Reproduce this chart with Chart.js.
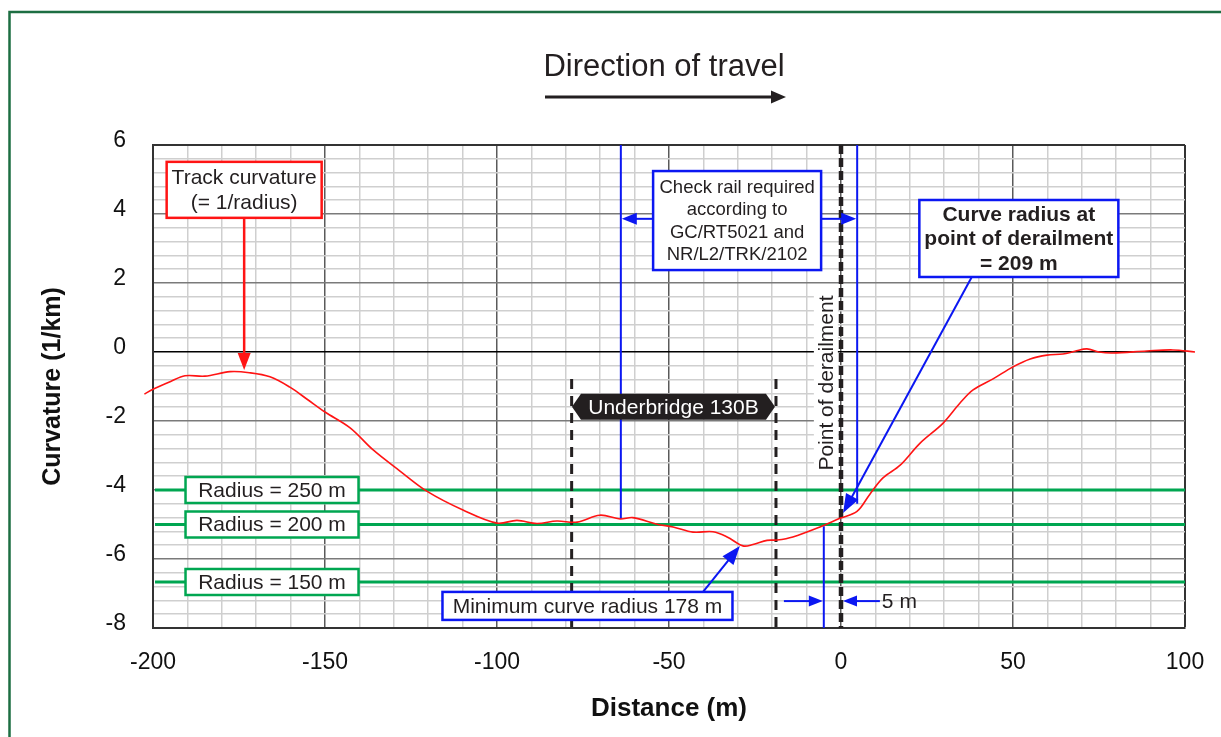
<!DOCTYPE html>
<html>
<head>
<meta charset="utf-8">
<title>Track curvature</title>
<script src="https://cdn.jsdelivr.net/npm/chart.js@4.4.1/dist/chart.umd.min.js"></script>
<style>
  html, body { margin: 0; padding: 0; background: #fff; }
  canvas { display: block; }
</style>
</head>
<body>
<canvas id="chart" width="1221" height="737" style="width:1221px;height:737px"></canvas>
<script>
// --- Data ---

// Distance along track (m) and measured curvature (1/km)
const distance = [-202.5, -200, -195, -190.7, -184.9, -177.6, -172, -166, -160.2, -155.2,
    -150, -142.7, -136, -128.2, -120.3, -109.9, -100, -94.2, -88.4, -82.6,
    -76.7, -70.1, -64.2, -60.5, -53.5, -48.8, -43, -37.2, -33.1, -28.5,
    -25.6, -21.5, -18.6, -14, -6.1, -0.3, 4.65, 8.4, 12.2, 17.2,
    23, 29.7, 34.6, 38.4, 44.2, 50, 55, 59.9, 64.5, 68,
    71.5, 75, 79, 88.9, 96.5, 102.9];
const curvature = [-1.22, -1.08, -0.86, -0.69, -0.70, -0.57, -0.60, -0.72, -1.02, -1.37,
    -1.74, -2.20, -2.84, -3.45, -4.04, -4.58, -4.96, -4.88, -4.97, -4.90,
    -4.93, -4.73, -4.84, -4.80, -4.99, -5.07, -5.22, -5.21, -5.36, -5.62,
    -5.58, -5.46, -5.45, -5.36, -5.07, -4.82, -4.62, -4.12, -3.65, -3.28,
    -2.64, -2.06, -1.48, -1.10, -0.78, -0.43, -0.20, -0.09, -0.06, 0.02,
    0.09, 0.00, -0.03, 0.03, 0.06, 0.00];

// Reference radii (m), drawn as curvature = -1000 / radius
const radiusLines = [250, 200, 150];

// Tick labels
const xTickLabels = [-200, -150, -100, -50, 0, 50, 100];
const yTickLabels = [6, 4, 2, 0, -2, -4, -6, -8];

// Marker positions (m)
const derailPoint = 0;
const checkRailStart = -64;
const checkRailEnd = 4.7;
const bridgeStart = -78.3;
const bridgeEnd = -18.9;
const fiveMetreMark = -5;
const radiusAtDerail = 209;
const minRadius = 178;

// --- Styles ---
const FONT = '"Liberation Sans", Arial, sans-serif';
const INK = '#231f20';
const BLUE = '#0b17f2';
const RED = '#ff1414';
const GREEN = '#00a651';

function arrowHead(ctx, x1, y1, x2, y2, len, wid, color) {
    const a = Math.atan2(y2 - y1, x2 - x1);
    ctx.save();
    ctx.fillStyle = color;
    ctx.translate(x2, y2);
    ctx.rotate(a);
    ctx.beginPath();
    ctx.moveTo(0, 0);
    ctx.lineTo(-len, -wid / 2);
    ctx.lineTo(-len, wid / 2);
    ctx.closePath();
    ctx.fill();
    ctx.restore();
}

function arrow(ctx, x1, y1, x2, y2, color, lw, len, wid) {
    const a = Math.atan2(y2 - y1, x2 - x1);
    ctx.save();
    ctx.strokeStyle = color;
    ctx.lineWidth = lw;
    ctx.beginPath();
    ctx.moveTo(x1, y1);
    ctx.lineTo(x2 - Math.cos(a) * len * 0.8, y2 - Math.sin(a) * len * 0.8);
    ctx.stroke();
    ctx.restore();
    arrowHead(ctx, x1, y1, x2, y2, len, wid, color);
}

function textBox(ctx, cx, cy, w, h, color, lines, font, lh) {
    ctx.save();
    ctx.fillStyle = '#fff';
    ctx.fillRect(cx - w / 2, cy - h / 2, w, h);
    ctx.strokeStyle = color;
    ctx.lineWidth = 2.5;
    ctx.strokeRect(cx - w / 2, cy - h / 2, w, h);
    ctx.fillStyle = INK;
    ctx.font = font;
    ctx.textAlign = 'center';
    ctx.textBaseline = 'middle';
    lines.forEach((t, i) => ctx.fillText(t, cx, cy + (i - (lines.length - 1) / 2) * lh + 1));
    ctx.restore();
}

function vLine(ctx, px, y1, y2, color, lw, dash) {
    ctx.save();
    ctx.strokeStyle = color;
    ctx.lineWidth = lw;
    ctx.setLineDash(dash || []);
    ctx.beginPath();
    ctx.moveTo(px, y1);
    ctx.lineTo(px, y2);
    ctx.stroke();
    ctx.restore();
}

// Frame, heading and direction arrow
const framePlugin = {
    id: 'frame',
    afterDraw(chart) {
        const ctx = chart.ctx;
        ctx.save();
        ctx.strokeStyle = '#1d6e42';
        ctx.lineWidth = 2.5;
        ctx.beginPath();
        ctx.moveTo(9.5, 737);
        ctx.lineTo(9.5, 12);
        ctx.lineTo(1221, 12);
        ctx.stroke();
        ctx.fillStyle = INK;
        ctx.font = '31px ' + FONT;
        ctx.textAlign = 'center';
        ctx.textBaseline = 'middle';
        ctx.fillText('Direction of travel', 664, 67);
        ctx.restore();
        arrow(ctx, 545, 97, 786, 97, INK, 3, 15, 13);
    }
};

// Reference lines, markers and callouts
const annotationPlugin = {
    id: 'annotations',
    beforeDatasetsDraw(chart) {
        const {ctx, chartArea: a, scales: {x, y}} = chart;
        ctx.save();
        ctx.strokeStyle = GREEN;
        ctx.lineWidth = 3;
        radiusLines.forEach(r => {
            const py = y.getPixelForValue(-1000 / r);
            ctx.beginPath();
            ctx.moveTo(a.left + 2, py);
            ctx.lineTo(a.right, py);
            ctx.stroke();
        });
        ctx.restore();

        // "Point of derailment" label with white background
        ctx.save();
        ctx.translate(x.getPixelForValue(-4.4), y.getPixelForValue(-0.9));
        ctx.rotate(-Math.PI / 2);
        ctx.font = '21px ' + FONT;
        const tw = ctx.measureText('Point of derailment').width;
        ctx.fillStyle = '#fff';
        ctx.fillRect(-tw / 2 - 3, -12, tw + 6, 24);
        ctx.fillStyle = INK;
        ctx.textAlign = 'center';
        ctx.textBaseline = 'middle';
        ctx.fillText('Point of derailment', 0, 1);
        ctx.restore();

        // Underbridge limits
        const bTop = y.getPixelForValue(-0.78);
        vLine(ctx, x.getPixelForValue(bridgeStart), bTop, a.bottom, INK, 3, [10, 7]);
        vLine(ctx, x.getPixelForValue(bridgeEnd), bTop, a.bottom, INK, 3, [10, 7]);

        // Check rail limits and 5 m marker
        vLine(ctx, x.getPixelForValue(checkRailStart), a.top, y.getPixelForValue(-4.84), BLUE, 2);
        vLine(ctx, x.getPixelForValue(checkRailEnd), a.top, y.getPixelForValue(-4.4), BLUE, 2);
        vLine(ctx, x.getPixelForValue(fiveMetreMark), y.getPixelForValue(-5.05), a.bottom, BLUE, 2);

        // Point of derailment
        vLine(ctx, x.getPixelForValue(derailPoint), a.top, a.bottom, INK, 4.5, [9, 4]);
    },
    afterDatasetsDraw(chart) {
        const {ctx, scales: {x, y}} = chart;
        const f21 = '21px ' + FONT;

        // Track curvature callout
        const tcx = x.getPixelForValue(-173.5), tcy = y.getPixelForValue(4.70);
        arrow(ctx, tcx, tcy + 28, tcx, y.getPixelForValue(-0.52), RED, 2.5, 17, 13);
        textBox(ctx, tcx, tcy, 155, 56, RED, ['Track curvature', '(= 1/radius)'], f21, 25.5);

        // Check rail callout
        const ccx = x.getPixelForValue(-30.2), ccy = y.getPixelForValue(3.81);
        const ay = y.getPixelForValue(3.86);
        arrow(ctx, ccx - 84, ay, x.getPixelForValue(checkRailStart) + 1, ay, BLUE, 2, 15, 12);
        arrow(ctx, ccx + 84, ay, x.getPixelForValue(checkRailEnd) - 1, ay, BLUE, 2, 15, 12);
        textBox(ctx, ccx, ccy, 168, 99, BLUE,
            ['Check rail required', 'according to', 'GC/RT5021 and', 'NR/L2/TRK/2102'],
            '18.5px ' + FONT, 22.5);

        // Curve radius at point of derailment
        const rcx = x.getPixelForValue(51.7), rcy = y.getPixelForValue(3.29);
        arrow(ctx, x.getPixelForValue(38.1), rcy + 38, x.getPixelForValue(0.6), y.getPixelForValue(-4.67), BLUE, 2, 19, 14);
        textBox(ctx, rcx, rcy, 199, 77, BLUE,
            ['Curve radius at', 'point of derailment', '= ' + radiusAtDerail + ' m'],
            'bold 21px ' + FONT, 24.5);

        // Minimum curve radius
        const mcx = x.getPixelForValue(-73.7), mcy = y.getPixelForValue(-7.36);
        arrow(ctx, x.getPixelForValue(-40.1), mcy - 14, x.getPixelForValue(-29.4), y.getPixelForValue(-5.62), BLUE, 2, 19, 14);
        textBox(ctx, mcx, mcy, 290, 28, BLUE, ['Minimum curve radius ' + minRadius + ' m'], f21, 0);

        // Radius labels
        radiusLines.forEach(r => {
            textBox(ctx, x.getPixelForValue(-165.4), y.getPixelForValue(-1000 / r), 173, 26, GREEN,
                ['Radius = ' + r + ' m'], f21, 0);
        });

        // Underbridge tag
        const ucx = x.getPixelForValue(-48.7), ucy = y.getPixelForValue(-1.59);
        const uw = 203, uh = 26, tip = 9;
        ctx.save();
        ctx.fillStyle = INK;
        ctx.beginPath();
        ctx.moveTo(ucx - uw / 2, ucy);
        ctx.lineTo(ucx - uw / 2 + tip, ucy - uh / 2);
        ctx.lineTo(ucx + uw / 2 - tip, ucy - uh / 2);
        ctx.lineTo(ucx + uw / 2, ucy);
        ctx.lineTo(ucx + uw / 2 - tip, ucy + uh / 2);
        ctx.lineTo(ucx - uw / 2 + tip, ucy + uh / 2);
        ctx.closePath();
        ctx.fill();
        ctx.fillStyle = '#fff';
        ctx.font = f21;
        ctx.textAlign = 'center';
        ctx.textBaseline = 'middle';
        ctx.fillText('Underbridge 130B', ucx, ucy + 1);
        ctx.restore();

        // 5 m dimension
        const fy = y.getPixelForValue(-7.22);
        arrow(ctx, x.getPixelForValue(-16.6), fy, x.getPixelForValue(fiveMetreMark) - 1, fy, BLUE, 2, 14, 11);
        arrow(ctx, x.getPixelForValue(11.3), fy, x.getPixelForValue(derailPoint) + 2, fy, BLUE, 2, 14, 11);
        ctx.save();
        ctx.fillStyle = INK;
        ctx.font = f21;
        ctx.textBaseline = 'middle';
        ctx.fillText('5 m', x.getPixelForValue(11.3) + 2, fy + 1);
        ctx.restore();
    }
};

function isMultiple(v, step) {
    return Math.abs(v / step - Math.round(v / step)) < 1e-6;
}

const ctx = document.getElementById('chart').getContext('2d');
new Chart(ctx, {
    type: 'scatter',
    data: {
        datasets: [{
            label: 'Track curvature',
            data: distance.map((d, i) => ({x: d, y: curvature[i]})),
            showLine: true,
            borderColor: RED,
            borderWidth: 1.6,
            pointRadius: 0,
            tension: 0.35,
            clip: false
        }]
    },
    options: {
        responsive: false,
        animation: false,
        events: [],
        layout: { padding: { top: 145, right: 36, left: 0, bottom: 0 } },
        plugins: {
            legend: { display: false },
            tooltip: { enabled: false }
        },
        scales: {
            x: {
                type: 'linear',
                min: -200,
                max: 100,
                afterFit: s => { s.height = 109; s.paddingLeft = 0; s.paddingRight = 0; },
                ticks: {
                    stepSize: 10,
                    autoSkip: false,
                    maxRotation: 0,
                    padding: 21,
                    color: '#111',
                    font: { family: FONT, size: 23 },
                    callback: v => xTickLabels.includes(v) ? String(v) : ''
                },
                grid: {
                    drawTicks: false,
                    color: c => {
                        const v = c.tick.value;
                        if (v === 100) return '#333';
                        return isMultiple(v, 50) ? '#5a5a5a' : '#cfcfcf';
                    },
                    lineWidth: c => (c.tick.value === 100 ? 2 : 1.5)
                },
                border: { display: true, color: '#333', width: 2 },
                title: {
                    display: true,
                    text: 'Distance (m)',
                    color: '#111',
                    font: { family: FONT, size: 26, weight: 'bold' },
                    padding: { top: 0, bottom: 13 }
                }
            },
            y: {
                min: -8,
                max: 6,
                afterFit: s => { s.width = 153; s.paddingTop = 0; s.paddingBottom = 0; },
                ticks: {
                    stepSize: 0.4,
                    autoSkip: false,
                    padding: 27,
                    labelOffset: -4,
                    color: '#111',
                    font: { family: FONT, size: 23 },
                    callback: v => {
                        const r = Math.round(v);
                        return (isMultiple(v, 2) && yTickLabels.includes(r)) ? String(r) : '';
                    }
                },
                grid: {
                    drawTicks: false,
                    color: c => {
                        const v = c.tick.value;
                        if (Math.abs(v) < 1e-6) return '#000';
                        if (Math.abs(v - 6) < 1e-6) return '#333';
                        return isMultiple(v, 2) ? '#7a7a7a' : '#cfcfcf';
                    },
                    lineWidth: c => (Math.abs(c.tick.value - 6) < 1e-6 ? 2 : 1.5)
                },
                border: { display: true, color: '#333', width: 2 },
                title: {
                    display: true,
                    text: 'Curvature (1/km)',
                    color: '#111',
                    font: { family: FONT, size: 25, weight: 'bold' },
                    padding: { top: 38, bottom: 0 }
                }
            }
        }
    },
    plugins: [annotationPlugin, framePlugin]
});
</script>
</body>
</html>
